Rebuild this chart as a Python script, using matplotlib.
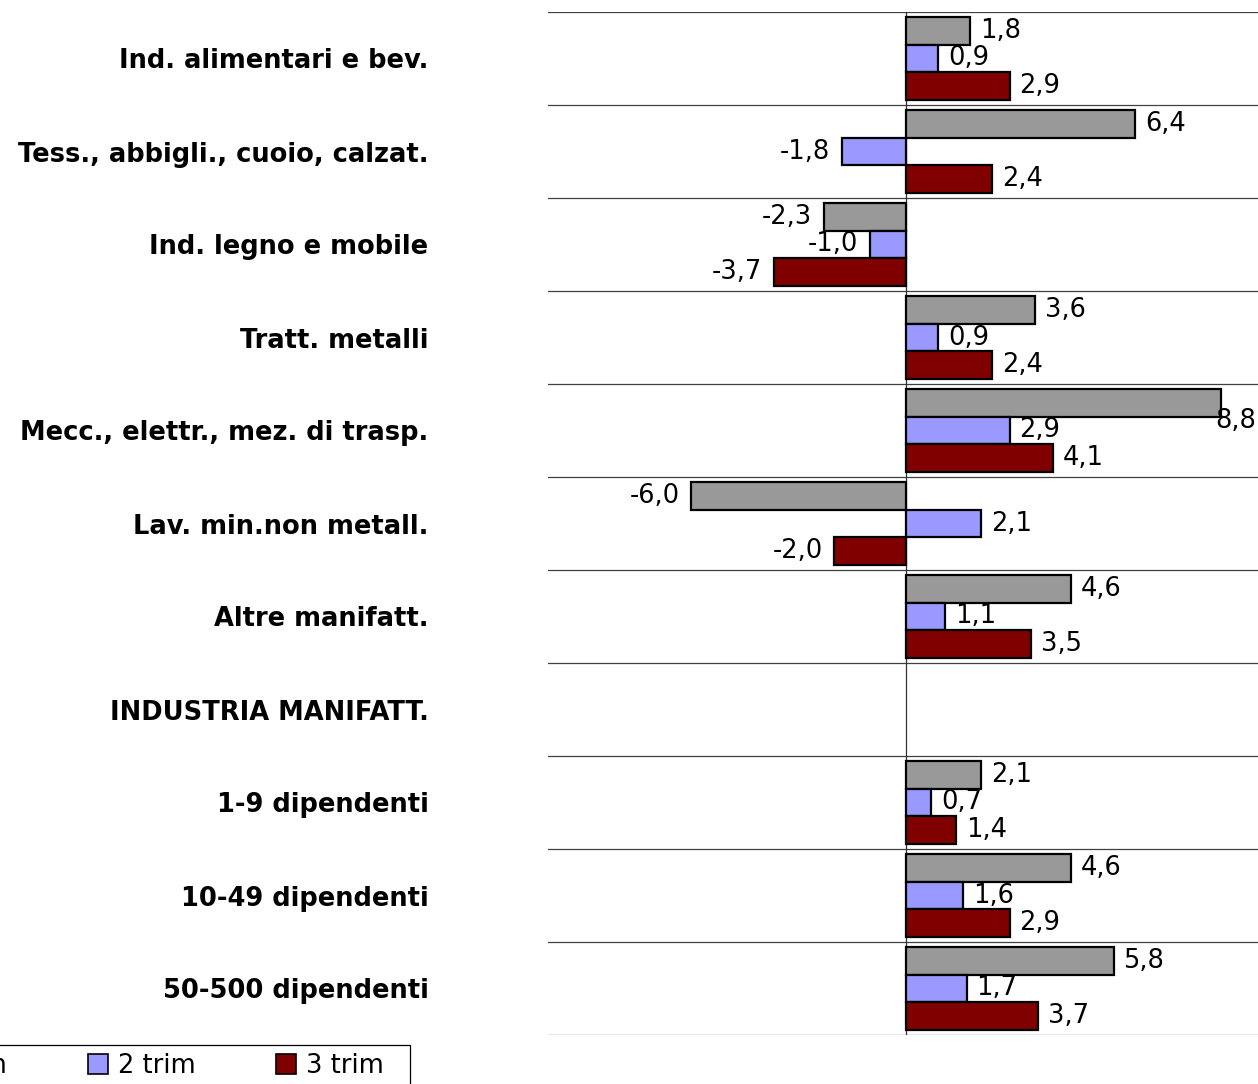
import numpy as np
import matplotlib
matplotlib.use("Agg")
import matplotlib.pyplot as plt
from matplotlib.patches import Patch, Rectangle

plt.rcParams['font.family'] = ['DejaVu Sans']

categories = ["Ind. alimentari e bev.", "Tess., abbigli., cuoio, calzat.",
              "Ind. legno e mobile", "Tratt. metalli",
              "Mecc., elettr., mez. di trasp.", "Lav. min.non metall.",
              "Altre manifatt.", "INDUSTRIA MANIFATT.", "1-9 dipendenti",
              "10-49 dipendenti", "50-500 dipendenti"]
trim1 = [1.8, 6.4, -2.3, 3.6, 8.8, -6.0, 4.6, np.nan, 2.1, 4.6, 5.8]
trim2 = [0.9, -1.8, -1.0, 0.9, 2.9, 2.1, 1.1, np.nan, 0.7, 1.6, 1.7]
trim3 = [2.9, 2.4, -3.7, 2.4, 4.1, -2.0, 3.5, np.nan, 1.4, 2.9, 3.7]
series_names = ["1 trim", "2 trim", "3 trim"]
colors = ["#999999", "#9999FF", "#800000"]

W, H = 1258, 1084
fig = plt.figure(figsize=(W / 100, H / 100), dpi=100)
ax = fig.add_axes([548 / W, 1 - 1035 / H, (1264 - 548) / W, (1035 - 12) / H])

VFS = 18.5
CFS = 18.5
n = len(categories)
y = np.arange(n)
bh = 0.3
offsets = [-bh, 0, bh]
xmin, xmax = -10, 10

for vals, off, col in zip([trim1, trim2, trim3], offsets, colors):
    v = np.array(vals, dtype=float)
    ax.barh(y + off, v, height=bh, color=col, edgecolor="black", linewidth=1.6, zorder=3)
    for yi, vi in zip(y + off, v):
        if np.isnan(vi):
            continue
        txt = f"{vi:.1f}".replace(".", ",")
        if vi >= 0:
            if vi > 8:
                ax.annotate(txt, (vi, yi), xytext=(25, -13), textcoords="offset points",
                            ha="right", va="center", fontsize=VFS, zorder=4)
            else:
                ax.annotate(txt, (vi, yi), xytext=(7, 0), textcoords="offset points",
                            ha="left", va="center", fontsize=VFS, zorder=4)
        else:
            ax.annotate(txt, (vi, yi), xytext=(-8.5, 0), textcoords="offset points",
                        ha="right", va="center", fontsize=VFS, zorder=4)

for b in np.arange(-0.5, n, 1.0):
    ax.axhline(b, color="#404040", linewidth=0.9, zorder=1)
ax.axvline(0, color="#333333", linewidth=0.9, zorder=2)

ax.set_xlim(xmin, xmax)
ax.set_ylim(n - 0.5, -0.5)
ax.set_xticks([])
ax.set_yticks(y)
ax.set_yticklabels(categories, fontsize=CFS, fontweight="bold")
ax.tick_params(axis="y", length=0, pad=86)
for s in ax.spines.values():
    s.set_visible(False)

# legend (frame drawn separately so it can extend past the figure edge like the reference)
handles = [Patch(facecolor=c, edgecolor="black", linewidth=1.2) for c in colors]
leg = fig.legend(handles, series_names, ncol=3, loc="center right",
                 bbox_to_anchor=(384 / W, 1 - 1066 / H), bbox_transform=fig.transFigure,
                 fontsize=VFS, frameon=False, borderaxespad=0, borderpad=0,
                 handlelength=0.78, handleheight=0.78, handletextpad=0.38,
                 columnspacing=3.15)
frame = Rectangle((-10 / W, -20 / H), 420 / W, (1084 + 20 - 1045) / H,
                  transform=fig.transFigure, facecolor="none", edgecolor="black",
                  linewidth=0.9, clip_on=False)
fig.patches.append(frame)

fig.savefig("out.png", dpi=100)
